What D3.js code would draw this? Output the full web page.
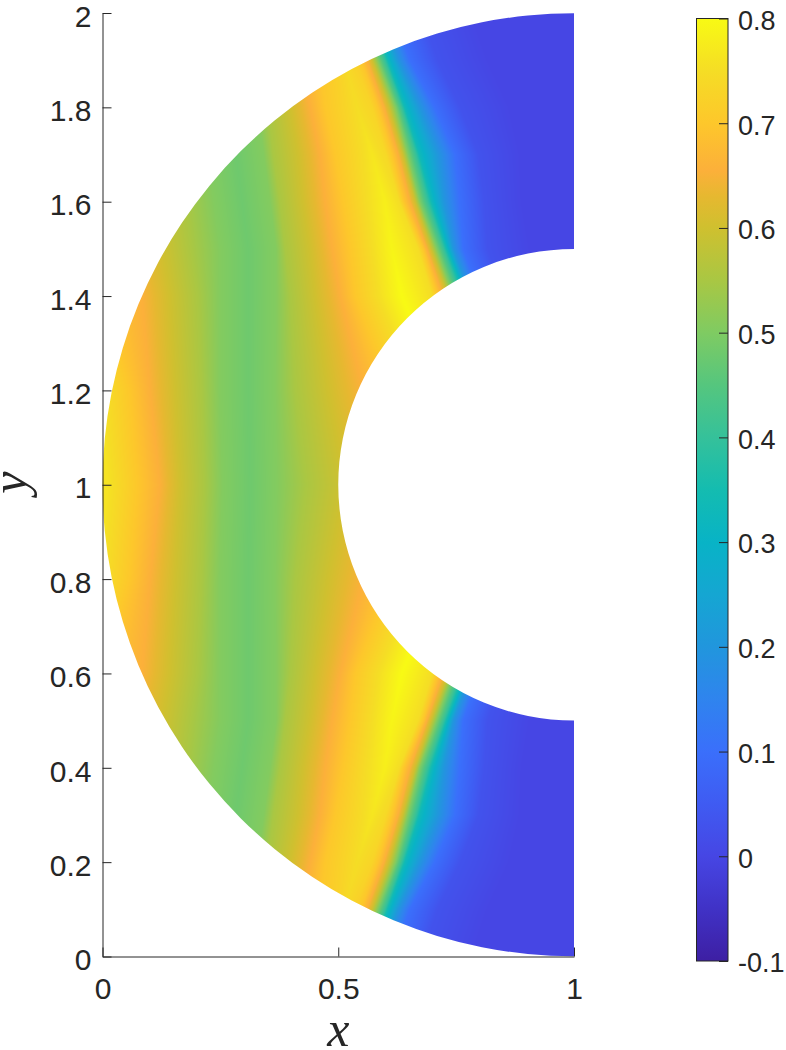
<!DOCTYPE html>
<html>
<head>
<meta charset="utf-8">
<script src="https://cdnjs.cloudflare.com/ajax/libs/d3/7.8.5/d3.min.js"></script>
<style>
  html, body { margin: 0; padding: 0; background: #fff; }
  svg { display: block; }
  .tick text, .lbl { fill: #262626; }
  .tick text { font-family: "Liberation Sans", Arial, sans-serif; font-size: 30px; }
  .cbar .tick text { font-size: 27px; }
  .lbl { font-family: "Liberation Serif", serif; font-style: italic; font-size: 50px; }
</style>
</head>
<body>
<svg id="chart" width="786" height="1050"></svg>
<script>
// --- DATA ---
const xTicks = [0, 0.5, 1];
const yTicks = [0, 0.2, 0.4, 0.6, 0.8, 1, 1.2, 1.4, 1.6, 1.8, 2];
const cbTicks = [-0.1, 0, 0.1, 0.2, 0.3, 0.4, 0.5, 0.6, 0.7, 0.8];

// colorbar
const cmapValues = [-0.1, -0.05, 0, 0.05, 0.1, 0.15, 0.2, 0.25, 0.3, 0.35, 0.4, 0.45, 0.5, 0.55, 0.6, 0.63, 0.655, 0.7, 0.75, 0.8];
const cmapColors = ["#3d1fa3", "#4032c6", "#4646e4", "#3f5bf2", "#3a6ffb", "#2f84ee", "#2196dd", "#15a6d2", "#08b3c6", "#14bcb0",
  "#35c19a", "#55c67e", "#7fcb62", "#a9c743", "#cfc02f", "#e6b830", "#fcb03a", "#fdc72b", "#f5dd25", "#f8fa14"];

// annulus around (1,1); the field is mirrored about y=1
const centerX = 1, centerY = 1, innerR = 0.5, outerR = 1;

// distance from y=1 of each measured row
const fieldDy = [0, 0.2, 0.4, 0.5, 0.6, 0.7, 0.8, 0.9, 1];

// levels met going left to right along a row
const leftLevels = [0.76, 0.70, 0.655, 0.60, 0.55, 0.505, 0.48, 0.505, 0.55, 0.60, 0.655, 0.70];
const shoulderLevels = [0.75, 0.75, 0.75, 0.75, 0.75, 0.74, 0.73, 0.72, 0.72];
const crestLevels = [0.80, 0.80, 0.80, 0.79, 0.78, 0.765, 0.75, 0.74, 0.735];
const rightLevels = [0.70, 0.655, 0.60, 0.50, 0.40, 0.33, 0.20, 0.10, 0.03, 0, 0];

// x where each row reaches each of those levels
const fieldX = [
  [0.012, 0.075, 0.122, 0.164, 0.217, 0.254, 0.313, 0.370, 0.430, 0.514, 0.599, 0.652, 0.716, 0.780, 0.822, 0.833, 0.843, 0.854, 0.864, 0.877, 0.886, 0.899, 0.924, 0.960, 0.992, 1],
  [-0.005, 0.058, 0.101, 0.154, 0.211, 0.249, 0.309, 0.366, 0.408, 0.478, 0.553, 0.610, 0.663, 0.716, 0.780, 0.790, 0.801, 0.811, 0.822, 0.835, 0.843, 0.856, 0.877, 0.924, 0.981, 1],
  [-0.037, 0.005, 0.084, 0.143, 0.203, 0.249, 0.309, 0.368, 0.398, 0.451, 0.504, 0.536, 0.584, 0.635, 0.699, 0.710, 0.722, 0.733, 0.744, 0.760, 0.769, 0.780, 0.801, 0.849, 0.928, 1],
  [-0.048, -0.016, 0.058, 0.128, 0.190, 0.249, 0.309, 0.368, 0.387, 0.440, 0.487, 0.525, 0.572, 0.614, 0.669, 0.680, 0.688, 0.697, 0.709, 0.724, 0.731, 0.744, 0.765, 0.816, 0.907, 1],
  [-0.058, -0.027, 0.037, 0.111, 0.179, 0.236, 0.296, 0.355, 0.376, 0.425, 0.472, 0.510, 0.561, 0.599, 0.629, 0.639, 0.652, 0.663, 0.673, 0.690, 0.699, 0.724, 0.758, 0.809, 0.890, 1],
  [-0.069, -0.037, 0.016, 0.090, 0.164, 0.223, 0.283, 0.342, 0.362, 0.415, 0.461, 0.493, 0.542, 0.572, 0.601, 0.614, 0.627, 0.637, 0.648, 0.665, 0.673, 0.712, 0.748, 0.797, 0.886, 1],
  [-0.080, -0.048, -0.005, 0.080, 0.154, 0.211, 0.270, 0.328, 0.351, 0.398, 0.440, 0.472, 0.514, 0.540, 0.572, 0.584, 0.597, 0.608, 0.622, 0.635, 0.642, 0.673, 0.705, 0.758, 0.864, 1],
  [-0.090, -0.058, -0.016, 0.058, 0.143, 0.200, 0.260, 0.317, 0.343, 0.376, 0.419, 0.461, 0.493, 0.514, 0.536, 0.548, 0.561, 0.572, 0.584, 0.599, 0.606, 0.627, 0.652, 0.710, 0.818, 1],
  [-0.101, -0.069, -0.027, 0.037, 0.122, 0.190, 0.249, 0.306, 0.330, 0.359, 0.393, 0.429, 0.457, 0.483, 0.502, 0.514, 0.527, 0.538, 0.550, 0.565, 0.572, 0.593, 0.618, 0.676, 0.784, 1]
];

// --- LAYOUT ---
const svg = d3.select("#chart");
const x = d3.scaleLinear().domain([0, 1]).range([102.5, 574]);
const y = d3.scaleLinear().domain([0, 2]).range([956.5, 13]);
const cb = d3.scaleLinear().domain([-0.1, 0.8]).range([961, 18.5]);
const cbLeft = 696.5, cbRight = 728;

const colorOf = d3.scaleLinear().domain(cmapValues).range(cmapColors).clamp(true);

// --- PART 1: THE FIELD ---
const fieldLevels = fieldDy.map((_, i) => [...leftLevels, shoulderLevels[i], crestLevels[i], shoulderLevels[i], ...rightLevels]);
const nLevels = fieldX[0].length;
const posAt = d3.range(nLevels).map(k => d3.scaleLinear().domain(fieldDy).range(fieldX.map(r => r[k])));
const valAt = d3.range(nLevels).map(k => d3.scaleLinear().domain(fieldDy).range(fieldLevels.map(r => r[k])));

const x0 = Math.floor(x(0)), x1 = Math.ceil(x(1));
const y0 = Math.floor(y(2)), y1 = Math.ceil(y(0));
const canvas = document.createElement("canvas");
canvas.width = x1 - x0;
canvas.height = y1 - y0;
const ctx = canvas.getContext("2d");
const img = ctx.createImageData(canvas.width, canvas.height);

for (let py = y0; py < y1; py++) {
  const dy = Math.min(1, Math.abs(y.invert(py + 0.5) - centerY));
  const profile = d3.scaleLinear()
    .domain(posAt.map(s => s(dy)))
    .range(valAt.map(s => s(dy)))
    .clamp(true);
  for (let px = x0; px < x1; px++) {
    const c = d3.rgb(colorOf(profile(x.invert(px + 0.5))));
    const i = 4 * ((py - y0) * canvas.width + (px - x0));
    img.data[i] = c.r;
    img.data[i + 1] = c.g;
    img.data[i + 2] = c.b;
    img.data[i + 3] = 255;
  }
}
ctx.putImageData(img, 0, 0);

// half ring used as the clip, same scales as the axes
const unit = x(1) - x(0);
const ringPath = d3.path();
ringPath.moveTo(x(centerX), y(centerY + outerR));
ringPath.arc(x(centerX), y(centerY), outerR * unit, -Math.PI / 2, Math.PI / 2, true);
ringPath.lineTo(x(centerX), y(centerY - innerR));
ringPath.arc(x(centerX), y(centerY), innerR * unit, Math.PI / 2, -Math.PI / 2, false);
ringPath.closePath();

svg.append("clipPath").attr("id", "ring").append("path").attr("d", ringPath.toString());

svg.append("image")
  .attr("x", x0).attr("y", y0)
  .attr("width", canvas.width).attr("height", canvas.height)
  .attr("href", canvas.toDataURL())
  .attr("clip-path", "url(#ring)");

// --- PART 2: AXES ---
const fmt = d => String(d);

const xAxis = svg.append("g")
  .attr("transform", `translate(0,${y(0)})`)
  .call(d3.axisBottom(x).tickValues(xTicks).tickSizeInner(-9).tickSizeOuter(0).tickPadding(21).tickFormat(fmt));

const yAxis = svg.append("g")
  .attr("transform", `translate(${x(0)},0)`)
  .call(d3.axisLeft(y).tickValues(yTicks).tickSizeInner(-9).tickSizeOuter(0).tickPadding(11).tickFormat(fmt));

yAxis.selectAll(".tick text").attr("dy", "0.44em");

[xAxis, yAxis].forEach(g => {
  g.selectAll(".domain, .tick line").attr("stroke", "#262626").attr("stroke-width", 1);
});

svg.append("text").attr("class", "lbl")
  .attr("x", x(0.5)).attr("y", 1046).attr("text-anchor", "middle").text("x");

svg.append("text").attr("class", "lbl")
  .attr("transform", `translate(26,${y(1) - 2}) rotate(-90)`)
  .attr("text-anchor", "middle").text("y");

// --- PART 3: COLORBAR ---
const grad = svg.append("linearGradient")
  .attr("id", "cbGrad")
  .attr("x1", 0).attr("y1", 1).attr("x2", 0).attr("y2", 0);

grad.selectAll("stop")
  .data(cmapValues)
  .enter()
  .append("stop")
  .attr("offset", d => (d + 0.1) / 0.9)
  .attr("stop-color", (d, i) => cmapColors[i]);

svg.append("rect")
  .attr("x", cbLeft).attr("y", cb(0.8))
  .attr("width", cbRight - cbLeft).attr("height", cb(-0.1) - cb(0.8))
  .attr("fill", "url(#cbGrad)")
  .attr("stroke", "#262626").attr("stroke-width", 1);

const cbAxis = svg.append("g")
  .attr("class", "cbar")
  .attr("transform", `translate(${cbRight},0)`)
  .call(d3.axisRight(cb).tickValues(cbTicks).tickSizeInner(-9).tickSizeOuter(0).tickPadding(10).tickFormat(fmt));

cbAxis.selectAll(".tick text").attr("dy", "0.4em");
cbAxis.select(".domain").remove();
cbAxis.selectAll(".tick line").attr("stroke", "#262626").attr("stroke-width", 1);
</script>
</body>
</html>
